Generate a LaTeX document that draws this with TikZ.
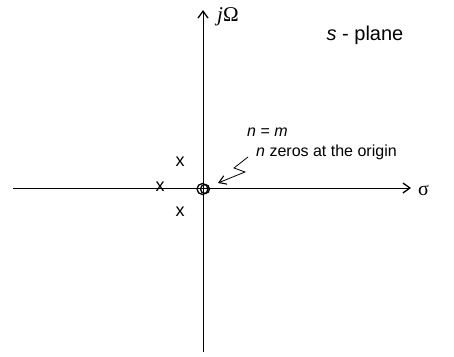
\documentclass[tikz,border=0pt]{standalone}
\usepackage{fontspec}
\setmainfont{Liberation Sans}
\newfontfamily\serifgreek{Liberation Serif}
\usetikzlibrary{arrows.meta}
\begin{document}
\begin{tikzpicture}[x=1pt,y=-1pt,
  axis/.style={line width=0.9pt,-{Straight Barb[length=7pt,width=10pt,line width=1.3pt]}},
  lbl/.style={inner sep=0pt,font=\fontsize{16}{19}\selectfont},
  pole/.style={inner sep=0pt,font=\fontsize{18}{20}\selectfont}]
\useasboundingbox (0,0) rectangle (454,356);
\coordinate (hl) at (13,188);
\coordinate (hr) at (411,188);
\coordinate (vb) at (203,352);
\coordinate (vt) at (203,10);
\draw[axis] (hl) -- (hr);
\draw[axis] (vb) -- (vt);
\node[lbl,anchor=west] (sig) at (418,190) {\serifgreek\fontsize{20}{20}\selectfont σ};
\node[lbl,anchor=west] (jw) at (217,17) {\serifgreek\fontsize{21}{22}\selectfont\textit{j}Ω};
\node[lbl,font=\fontsize{20}{24}\selectfont] (sp) at (365,35) {\textit{s} - plane};
\node[lbl,anchor=base west] (nm) at (247,136) {\textit{n} = \textit{m}};
\node[lbl,anchor=base west] (nz) at (256,156) {\textit{n} zeros at the origin};
\node[pole] (p1) at (180,162) {x};
\node[pole] (p2) at (160,187) {x};
\node[pole] (p3) at (180,212) {x};
\draw[line width=1.3pt] (202.5,189) circle (5.5);
\draw[line width=1.3pt] (205,189) circle (4.5);
\coordinate (z0) at (248,157);
\coordinate (z1) at (234,168);
\coordinate (z2) at (245,172);
\coordinate (z3) at (218,183);
\draw[line width=0.8pt,-{Straight Barb[length=7pt,width=9pt,line width=1.1pt]}] (z0) -- (z1) -- (z2) -- (z3);
\end{tikzpicture}
\end{document}
